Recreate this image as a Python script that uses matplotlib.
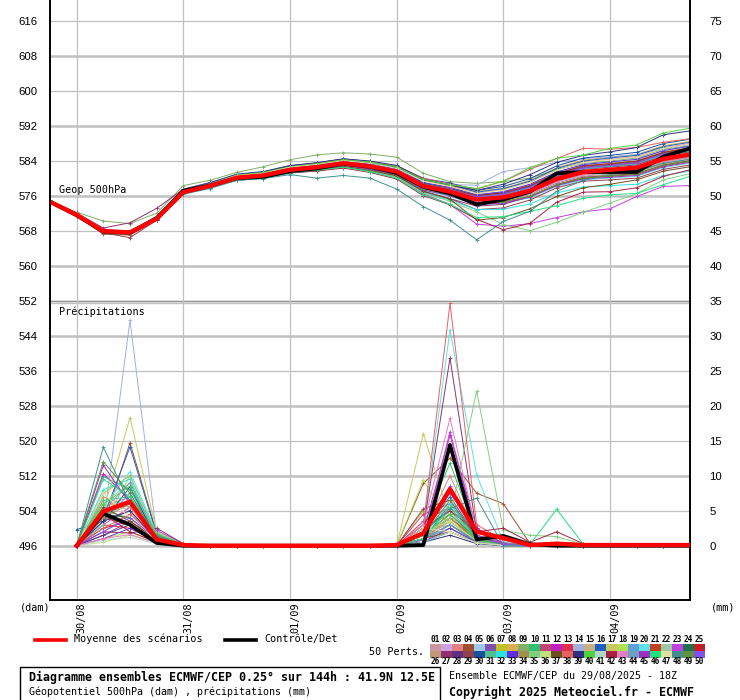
import matplotlib
matplotlib.use("Agg")
import matplotlib.pyplot as plt
from matplotlib.lines import Line2D
from matplotlib.patches import Rectangle
from matplotlib.transforms import offset_copy

# ---------------------------------------------------------------- data
steps = list(range(25))            # 6h steps, 29/08 18Z -> +144h
day_steps = [1, 5, 9, 13, 17, 21]
day_labels = ["30/08", "31/08", "01/09", "02/09", "03/09", "04/09"]
geop_ticks = list(range(496, 617, 8))
precip_ticks = list(range(0, 76, 5))

member_colors = [
    "#c89aa0", "#d0a0e0", "#e08080", "#a05030", "#a0c8e8", "#8050b0", "#c0c020", "#d8b050", "#80b068", "#30c070",
    "#c04878", "#c020c0", "#e03050", "#a0b0e0", "#c8b080", "#2060c0", "#c8c860", "#b0e050", "#60a0d8", "#60e0e8",
    "#c04020", "#a0c8a0", "#c040e0", "#207050", "#c02020", "#c09878", "#903070", "#603080", "#904050", "#1850a0",
    "#50c090", "#30e0e0", "#6030e0", "#a09050", "#80d080", "#c0e080", "#705020", "#e86060", "#303080", "#50d040",
    "#b0d8c8", "#a82040", "#e080c0", "#70a0c0", "#a030c0", "#20e080", "#e0e0a0", "#409090", "#609040", "#8050f0",
]

# Geopotentiel 500hPa (dam)
geop_mean = [574.6, 571.6, 567.9, 567.6, 570.7, 576.8, 578.2, 580.1, 580.6, 581.9, 582.5, 583.4, 582.7,
             581.5, 578.2, 576.9, 575.1, 575.6, 577.1, 579.8, 581.4, 581.9, 582.4, 584.4, 585.4]
geop_ctrl = [574.6, 571.5, 567.8, 567.5, 570.9, 577.1, 578.3, 580.0, 580.3, 581.6, 582.2, 583.3, 582.6,
             581.2, 578.0, 576.5, 574.0, 575.1, 576.9, 581.1, 581.4, 581.4, 581.4, 584.9, 586.8]
geop_members = [
    [574.7, 571.7, 568.0, 567.7, 570.8, 576.6, 578.0, 579.9, 580.3, 581.6, 582.2, 583.1, 582.4, 581.1, 577.8, 576.5, 574.7, 575.2, 576.6, 579.3, 580.9, 581.3, 581.8, 583.8, 584.8],
    [574.5, 571.4, 567.7, 567.4, 570.5, 577.0, 578.5, 580.4, 581.0, 582.3, 582.9, 583.8, 583.1, 582.0, 578.7, 577.5, 575.8, 576.4, 578.1, 580.8, 582.5, 583.0, 583.6, 585.6, 586.6],
    [574.7, 571.8, 568.1, 567.8, 570.9, 577.3, 578.8, 580.7, 581.3, 582.7, 583.3, 584.2, 583.6, 582.5, 579.5, 578.2, 576.6, 577.4, 579.1, 581.9, 583.7, 584.3, 584.9, 586.9, 587.9],
    [574.5, 571.3, 567.2, 567.0, 570.4, 576.6, 577.9, 579.8, 580.2, 581.5, 582.1, 583.0, 582.3, 581.0, 577.5, 576.1, 574.1, 574.5, 575.8, 578.4, 579.9, 580.4, 580.8, 582.8, 583.8],
    [574.7, 571.7, 568.0, 567.7, 570.8, 577.1, 578.6, 580.5, 581.1, 582.4, 583.0, 583.9, 583.3, 582.1, 578.9, 577.8, 576.2, 576.9, 578.5, 581.3, 583.0, 583.6, 584.2, 586.2, 587.2],
    [574.6, 571.6, 567.9, 567.6, 570.7, 577.2, 578.6, 580.6, 581.1, 582.5, 583.1, 584.0, 583.4, 582.2, 578.9, 577.6, 576.0, 576.7, 578.3, 581.1, 582.8, 583.3, 583.9, 585.9, 586.9],
    [574.7, 571.7, 568.0, 567.7, 570.8, 576.6, 577.9, 579.8, 580.2, 581.5, 582.1, 583.0, 582.3, 581.0, 577.7, 576.4, 574.6, 575.0, 576.5, 579.1, 580.7, 581.1, 581.6, 583.6, 584.6],
    [574.8, 571.9, 568.2, 567.9, 571.0, 577.1, 578.6, 580.5, 581.1, 582.4, 583.0, 583.9, 583.3, 582.1, 579.4, 578.4, 576.9, 577.7, 579.5, 582.4, 584.1, 584.8, 585.4, 587.4, 588.4],
    [574.8, 572.2, 570.2, 569.6, 572.0, 578.3, 579.5, 581.3, 582.6, 584.2, 585.3, 585.8, 585.5, 584.8, 581.1, 579.2, 578.8, 579.2, 580.0, 582.0, 583.3, 583.9, 584.6, 586.6, 587.4],
    [574.6, 571.5, 567.8, 567.5, 570.6, 577.0, 578.4, 580.3, 580.9, 582.2, 582.8, 583.7, 583.0, 581.9, 578.5, 577.3, 575.6, 576.2, 577.7, 580.5, 582.1, 582.7, 583.2, 585.2, 586.2],
    [574.6, 571.6, 567.9, 567.6, 570.7, 576.7, 578.1, 579.9, 580.4, 581.7, 582.3, 583.2, 582.5, 581.3, 578.0, 576.8, 574.9, 575.4, 576.9, 579.5, 581.1, 581.6, 582.1, 584.1, 585.1],
    [574.7, 571.7, 568.0, 567.7, 570.8, 576.7, 578.1, 580.0, 580.5, 581.8, 582.4, 583.3, 582.6, 581.4, 577.8, 576.4, 574.5, 574.9, 576.3, 578.9, 580.5, 580.9, 581.4, 583.4, 584.4],
    [574.5, 571.4, 567.7, 567.4, 570.5, 577.0, 578.4, 580.3, 580.9, 582.2, 582.8, 583.7, 583.0, 581.9, 578.7, 577.5, 575.8, 576.4, 578.1, 580.8, 582.5, 583.0, 583.6, 585.6, 586.6],
    [574.6, 571.6, 568.0, 567.9, 571.1, 577.2, 578.6, 580.5, 581.2, 582.5, 583.2, 584.0, 583.4, 582.3, 579.8, 578.5, 578.4, 581.5, 582.4, 583.6, 584.4, 584.9, 585.4, 586.9, 587.6],
    [574.6, 571.6, 567.9, 567.6, 570.7, 576.8, 578.2, 580.1, 580.6, 581.9, 582.5, 583.4, 582.7, 581.5, 578.3, 577.1, 575.3, 575.8, 577.3, 580.1, 581.7, 582.2, 582.7, 584.7, 585.7],
    [574.7, 571.8, 568.1, 567.8, 570.9, 577.3, 578.8, 580.8, 581.4, 582.8, 583.4, 584.3, 583.7, 582.6, 579.6, 578.5, 576.8, 577.6, 579.3, 582.2, 583.9, 584.6, 585.2, 587.2, 588.2],
    [574.6, 571.5, 567.8, 567.5, 570.6, 576.5, 577.9, 579.7, 580.2, 581.4, 582.0, 582.9, 582.1, 580.9, 577.4, 576.1, 574.2, 574.6, 576.0, 578.6, 580.3, 580.8, 581.2, 583.2, 584.2],
    [574.6, 571.6, 567.9, 567.6, 570.7, 577.0, 578.5, 580.4, 581.0, 582.3, 582.9, 583.8, 583.1, 582.0, 578.8, 577.7, 576.1, 576.7, 578.4, 581.2, 582.8, 583.4, 584.0, 586.0, 587.0],
    [574.6, 571.5, 567.8, 567.5, 570.6, 576.7, 578.1, 580.0, 580.5, 581.8, 582.4, 583.3, 582.6, 581.4, 578.1, 576.8, 575.0, 575.5, 576.9, 579.6, 581.2, 581.7, 582.2, 584.2, 585.2],
    [574.6, 571.6, 567.9, 567.6, 570.7, 576.4, 577.8, 579.6, 580.1, 581.3, 581.9, 582.8, 582.0, 580.8, 577.2, 575.8, 573.9, 574.2, 575.5, 578.1, 579.6, 580.0, 580.4, 582.4, 583.4],
    [574.7, 571.7, 568.0, 567.7, 570.8, 577.0, 578.5, 580.4, 581.0, 582.3, 582.9, 583.8, 583.1, 582.0, 578.7, 577.4, 575.7, 576.3, 577.9, 580.7, 582.3, 582.9, 583.4, 585.4, 586.4],
    [574.6, 571.5, 567.8, 567.5, 570.6, 576.8, 578.2, 580.1, 580.6, 581.9, 582.5, 583.4, 582.7, 581.5, 578.2, 576.9, 575.1, 575.6, 577.1, 579.8, 581.4, 581.9, 582.4, 584.4, 585.4],
    [574.6, 571.6, 567.9, 567.6, 570.7, 576.6, 578.0, 579.8, 580.2, 581.3, 581.8, 582.6, 581.6, 580.2, 576.4, 574.0, 569.5, 569.0, 569.6, 571.0, 572.3, 573.0, 575.8, 578.1, 578.3],
    [574.7, 571.7, 568.0, 567.7, 570.8, 577.2, 578.6, 580.6, 581.1, 582.5, 583.1, 584.0, 583.4, 582.2, 578.9, 577.6, 576.0, 576.6, 578.2, 581.0, 582.7, 583.2, 583.8, 585.8, 586.8],
    [574.5, 571.4, 567.7, 567.4, 570.5, 576.9, 578.3, 580.3, 580.8, 582.1, 582.7, 583.6, 582.9, 581.7, 578.6, 577.6, 576.0, 576.7, 578.3, 581.1, 582.8, 583.3, 583.9, 585.9, 586.9],
    [574.7, 571.7, 568.0, 567.7, 570.8, 576.7, 578.1, 579.9, 580.4, 581.7, 582.3, 583.2, 582.5, 581.3, 577.9, 576.7, 574.9, 575.3, 576.8, 579.5, 581.0, 581.5, 582.0, 584.0, 585.0],
    [574.9, 572.0, 568.6, 569.8, 573.1, 577.5, 579.0, 580.8, 581.0, 582.0, 582.4, 583.0, 582.1, 580.6, 577.0, 575.3, 573.6, 574.0, 575.8, 578.5, 580.2, 580.6, 581.0, 583.0, 584.0],
    [574.6, 571.6, 567.9, 567.6, 570.7, 576.9, 578.3, 580.3, 580.8, 582.1, 582.7, 583.6, 582.9, 581.7, 578.4, 577.2, 575.5, 576.0, 577.6, 580.3, 581.9, 582.5, 583.0, 585.0, 586.0],
    [574.6, 571.5, 567.5, 566.4, 570.4, 576.4, 577.7, 579.5, 580.0, 581.2, 581.8, 582.7, 581.9, 580.7, 576.9, 575.3, 572.8, 573.2, 575.0, 577.8, 579.3, 579.6, 580.0, 582.0, 583.0],
    [574.7, 571.8, 568.1, 567.8, 570.9, 577.4, 578.9, 580.9, 581.5, 582.9, 583.5, 584.4, 583.8, 582.7, 579.9, 578.9, 577.2, 578.1, 579.9, 582.8, 584.6, 585.2, 585.9, 587.9, 588.9],
    [574.6, 571.6, 567.9, 567.6, 570.7, 576.7, 578.1, 580.0, 580.5, 581.8, 582.4, 583.3, 582.6, 581.4, 578.1, 576.8, 575.0, 575.5, 577.0, 579.7, 581.3, 581.8, 582.3, 584.3, 585.3],
    [574.6, 571.5, 567.8, 567.5, 570.6, 576.3, 577.6, 579.5, 579.9, 581.1, 581.7, 582.6, 581.8, 580.5, 576.7, 575.0, 572.8, 572.9, 574.1, 576.6, 578.0, 578.3, 578.6, 580.6, 581.6],
    [574.7, 571.7, 568.0, 567.7, 570.8, 577.1, 578.6, 580.5, 581.1, 582.4, 583.0, 583.9, 583.3, 582.1, 579.0, 577.9, 576.2, 576.9, 578.6, 581.4, 583.1, 583.7, 584.3, 586.3, 587.3],
    [574.6, 571.5, 567.8, 567.5, 570.6, 576.7, 578.1, 580.0, 580.5, 581.8, 582.4, 583.3, 582.6, 581.4, 578.0, 576.6, 574.8, 575.3, 576.7, 579.4, 581.0, 581.4, 581.9, 583.9, 584.9],
    [574.6, 571.6, 567.9, 567.6, 570.8, 576.6, 578.0, 579.9, 580.3, 581.4, 582.0, 582.7, 581.7, 580.2, 576.6, 574.7, 572.3, 569.4, 568.0, 569.9, 572.2, 574.3, 576.5, 579.6, 581.0],
    [574.7, 571.7, 568.0, 567.7, 570.8, 576.9, 578.3, 580.2, 580.7, 582.0, 582.6, 583.5, 582.8, 581.6, 578.4, 577.1, 575.3, 575.9, 577.4, 580.1, 581.8, 582.3, 582.8, 584.8, 585.8],
    [574.5, 571.5, 567.7, 567.4, 570.5, 576.5, 577.9, 579.7, 580.2, 581.4, 581.9, 582.7, 581.8, 580.5, 577.0, 575.2, 570.4, 571.0, 573.0, 575.8, 577.8, 578.6, 579.6, 581.6, 582.6],
    [574.7, 571.8, 568.1, 567.8, 570.9, 577.1, 578.6, 580.6, 581.3, 582.7, 583.4, 584.3, 583.8, 582.8, 580.0, 578.6, 577.5, 579.3, 582.0, 584.5, 586.8, 586.6, 587.0, 588.2, 589.0],
    [574.6, 571.7, 568.0, 567.7, 570.8, 577.1, 578.7, 580.8, 581.4, 582.8, 583.5, 584.4, 583.9, 582.9, 579.8, 578.4, 577.2, 578.6, 580.8, 583.6, 585.2, 586.0, 587.0, 589.9, 590.8],
    [574.6, 571.6, 568.0, 567.7, 570.9, 577.2, 578.7, 580.7, 581.3, 582.6, 583.3, 584.2, 583.7, 582.6, 579.7, 578.5, 577.6, 579.3, 582.4, 584.5, 585.3, 586.8, 587.6, 590.3, 591.4],
    [574.6, 571.5, 567.8, 567.5, 570.6, 576.8, 578.2, 580.1, 580.6, 581.9, 582.5, 583.4, 582.7, 581.5, 577.8, 576.4, 574.6, 575.0, 576.4, 579.0, 580.6, 581.0, 581.5, 583.5, 584.5],
    [574.6, 571.6, 567.8, 567.5, 570.5, 576.5, 577.9, 579.7, 580.1, 581.2, 581.6, 582.3, 581.3, 579.8, 576.0, 573.9, 570.6, 568.2, 569.7, 574.5, 576.8, 576.9, 577.8, 580.4, 581.9],
    [574.7, 571.7, 568.0, 567.7, 570.8, 576.7, 578.1, 579.9, 580.4, 581.7, 582.3, 583.2, 582.5, 581.3, 577.8, 576.5, 574.7, 575.1, 576.5, 579.2, 580.8, 581.2, 581.7, 583.7, 584.7],
    [574.6, 571.6, 567.9, 567.6, 570.7, 577.0, 578.4, 580.3, 580.9, 582.2, 582.8, 583.7, 583.0, 581.9, 578.6, 577.4, 575.6, 576.2, 577.8, 580.6, 582.2, 582.8, 583.3, 585.3, 586.3],
    [574.5, 571.4, 567.7, 567.4, 570.5, 576.5, 577.8, 579.7, 580.2, 581.4, 582.0, 582.9, 582.1, 580.9, 577.3, 576.0, 574.0, 574.3, 575.7, 578.3, 579.8, 580.2, 580.6, 582.6, 583.6],
    [574.6, 571.6, 567.9, 567.6, 570.7, 576.6, 578.0, 579.8, 580.2, 581.3, 581.8, 582.5, 581.5, 580.0, 576.2, 574.0, 571.0, 571.2, 572.4, 573.7, 575.4, 576.2, 576.5, 578.5, 580.4],
    [574.7, 571.7, 568.0, 567.7, 570.8, 577.2, 578.6, 580.6, 581.1, 582.5, 583.1, 584.0, 583.4, 582.2, 579.3, 578.1, 576.5, 577.3, 579.0, 581.8, 583.6, 584.2, 584.8, 586.8, 587.8],
    [574.5, 571.5, 567.8, 567.5, 570.6, 576.4, 577.8, 579.5, 579.9, 580.8, 580.0, 580.6, 580.0, 577.5, 573.5, 570.4, 565.9, 570.1, 572.4, 577.0, 579.5, 580.8, 581.6, 583.4, 584.3],
    [574.6, 571.6, 567.9, 567.6, 570.7, 576.6, 578.0, 579.9, 580.3, 581.6, 582.2, 583.1, 582.4, 581.1, 577.6, 576.2, 574.2, 574.6, 575.9, 578.5, 580.0, 580.5, 580.9, 582.9, 583.9],
    [574.7, 571.7, 568.0, 567.7, 570.8, 577.0, 578.4, 580.3, 580.9, 582.2, 582.8, 583.7, 583.0, 581.9, 578.6, 577.4, 575.7, 576.4, 578.0, 580.7, 582.4, 582.9, 583.5, 585.5, 586.5],
]

# Precipitations (mm), steps 1..24
precip_mean = [0, 4.9, 6.3, 0.9, 0.1, 0, 0, 0, 0, 0, 0, 0, 0.1, 1.8, 8.1, 2.0, 1.1, 0.1, 0.3, 0.1, 0.1, 0.1, 0.1, 0.1]
precip_ctrl = [0, 4.6, 3.0, 0.4, 0, 0, 0, 0, 0, 0, 0, 0, 0, 0.1, 14.4, 0.9, 1.4, 0.2, 0, 0, 0, 0, 0, 0]
precip_members = [
    [0, 3.5, 5.0, 1.0, 0.1, 0, 0, 0, 0, 0, 0, 0, 0, 1.0, 4.0, 0.8, 0.2, 0, 0, 0, 0, 0, 0, 0],
    [0, 2.0, 4.5, 1.5, 0.2, 0, 0, 0, 0, 0, 0, 0, 0, 0.5, 3.0, 1.0, 0.3, 0, 0, 0, 0, 0, 0, 0],
    [0, 5.5, 7.0, 1.2, 0.1, 0, 0, 0, 0, 0, 0, 0, 0, 2.0, 10.0, 1.5, 0.5, 0, 0, 0, 0, 0, 0, 0],
    [0, 3.0, 14.7, 1.8, 0.2, 0, 0, 0, 0, 0, 0, 0, 0, 8.9, 12.5, 7.5, 6.0, 0.3, 0, 0, 0, 0, 0, 0],
    [0, 4.0, 6.5, 1.0, 0, 0, 0, 0, 0, 0, 0, 0, 0, 1.5, 5.0, 1.0, 0.2, 0, 0.1, 0, 0, 0, 0, 0],
    [0, 1.5, 3.5, 0.8, 0.1, 0, 0, 0, 0, 0, 0, 0, 0, 0.8, 6.0, 1.2, 0.4, 0, 0, 0, 0, 0, 0, 0],
    [0, 7.5, 10.0, 1.5, 0.2, 0, 0, 0, 0, 0, 0, 0, 0, 5.0, 3.5, 0.6, 0.1, 0, 0, 0, 0, 0, 0, 0],
    [0, 6.0, 5.5, 0.9, 0.1, 0, 0, 0, 0, 0, 0, 0, 0, 1.0, 2.5, 0.5, 0.1, 0, 0, 0, 0, 0, 0, 0],
    [0, 5.0, 4.0, 0.7, 0, 0, 0, 0, 0, 0, 0, 0, 0, 2.5, 4.5, 0.8, 0.2, 0, 0, 0, 0, 0, 0, 0],
    [0, 9.9, 8.0, 1.3, 0.1, 0, 0, 0, 0, 0, 0, 0, 0, 3.0, 11.8, 1.5, 0.3, 0, 0, 0, 0, 0, 0, 0],
    [0, 4.5, 6.0, 1.5, 0.2, 0, 0, 0, 0, 0, 0, 0, 0, 4.5, 6.0, 1.0, 0.2, 0, 0, 0, 0, 0, 0, 0],
    [0, 10.3, 6.5, 1.0, 0.1, 0, 0, 0, 0, 0, 0, 0, 0, 2.0, 15.8, 2.5, 0.3, 0, 0.2, 0, 0, 0, 0, 0],
    [0, 3.0, 2.5, 0.6, 0, 0, 0, 0, 0, 0, 0, 0, 0, 3.5, 5.5, 1.1, 0.3, 0, 0, 0, 0, 0, 0, 0],
    [0, 3.0, 32.2, 1.5, 0.2, 0, 0, 0, 0, 0, 0, 0, 0, 0.5, 2.0, 0.4, 0, 0, 0, 0, 0, 0, 0, 0],
    [0, 6.5, 5.0, 0.8, 0, 0, 0, 0, 0, 0, 0, 0, 0, 1.5, 3.5, 0.7, 0.1, 0, 0, 0, 0, 0, 0, 0],
    [0, 4.0, 14.1, 1.6, 0.1, 0, 0, 0, 0, 0, 0, 0, 0, 2.0, 7.0, 1.3, 0.2, 0, 0, 0, 0, 0, 0, 0],
    [0, 5.0, 18.3, 2.0, 0.2, 0, 0, 0, 0, 0, 0, 0, 0, 16.0, 4.0, 1.0, 0.2, 0, 0, 0, 0, 0, 0, 0],
    [0, 1.0, 2.0, 0.5, 0, 0, 0, 0, 0, 0, 0, 0, 0, 9.4, 3.0, 0.8, 0.2, 0, 0, 0, 0, 0, 0, 0],
    [0, 3.5, 7.5, 1.2, 0.1, 0, 0, 0, 0, 0, 0, 0, 0, 1.0, 2.5, 0.6, 0.1, 0, 0, 0, 0, 0, 0, 0],
    [0, 5.5, 10.6, 1.8, 0.2, 0, 0, 0, 0, 0, 0, 0, 0, 2.5, 30.8, 10.1, 0.6, 0, 0, 0, 0, 0, 0, 0],
    [0, 4.0, 3.0, 0.6, 0, 0, 0, 0, 0, 0, 0, 0, 0, 1.5, 4.0, 0.9, 0.2, 0, 0, 0, 0, 0, 0, 0],
    [0, 6.0, 9.0, 1.5, 0.1, 0, 0, 0, 0, 0, 0, 0, 0, 2.0, 3.0, 0.5, 0.1, 0, 0, 0, 0, 0, 0, 0],
    [0, 3.0, 5.5, 2.2, 0.3, 0, 0, 0, 0, 0, 0, 0, 0, 1.0, 16.3, 1.5, 0.3, 0, 0, 0, 0, 0, 0, 0],
    [0, 4.5, 4.0, 0.8, 0, 0, 0, 0, 0, 0, 0, 0, 0, 0.5, 2.0, 0.5, 0.1, 0, 0, 0, 0, 0, 0, 0],
    [0, 2.5, 3.5, 1.0, 0.1, 0, 0, 0, 0, 0, 0, 0, 0, 3.0, 8.0, 1.2, 0.2, 0, 0, 0, 0, 0, 0, 0],
    [0, 7.0, 5.5, 1.1, 0.1, 0, 0, 0, 0, 0, 0, 0, 0, 1.0, 3.5, 0.8, 0.1, 0, 0, 0, 0, 0, 0, 0],
    [0, 2.0, 1.8, 2.5, 0.3, 0, 0, 0, 0, 0, 0, 0, 0, 2.5, 26.8, 2.0, 0.4, 0, 0, 0, 0, 0, 0, 0],
    [0, 1.5, 3.0, 0.9, 0.1, 0, 0, 0, 0, 0, 0, 0, 0, 1.5, 4.5, 1.0, 0.2, 0, 0, 0, 0, 0, 0, 0],
    [0, 5.0, 6.5, 1.4, 0.2, 0, 0, 0, 0, 0, 0, 0, 0, 5.3, 6.5, 1.2, 0.3, 0, 0, 0, 0, 0, 0, 0],
    [2.3, 3.5, 8.4, 1.0, 0.1, 0, 0, 0, 0, 0, 0, 0, 0, 1.0, 3.0, 0.6, 0.1, 0, 0, 0, 0, 0, 0, 0],
    [0, 6.5, 7.0, 1.3, 0.1, 0, 0, 0, 0, 0, 0, 0, 0, 2.0, 5.0, 0.9, 0.2, 0, 0, 0, 0, 0, 0, 0],
    [0, 8.0, 9.5, 1.0, 0.1, 0, 0, 0, 0, 0, 0, 0, 0, 1.5, 6.0, 1.0, 0.2, 0, 0, 0, 0, 0, 0, 0],
    [0, 1.0, 2.5, 0.7, 0, 0, 0, 0, 0, 0, 0, 0, 0, 0.5, 2.5, 0.5, 0.1, 0, 0, 0, 0, 0, 0, 0],
    [0, 4.0, 6.0, 1.1, 0.1, 0, 0, 0, 0, 0, 0, 0, 0, 1.0, 4.0, 0.6, 0.1, 0, 0, 0, 0, 0, 0, 0],
    [0, 3.0, 10.0, 1.6, 0.1, 0, 0, 0, 0, 0, 0, 0, 0, 1.5, 4.0, 22.1, 2.2, 1.5, 1.3, 0.2, 0, 0, 0, 0],
    [0, 0.5, 1.5, 0.4, 0, 0, 0, 0, 0, 0, 0, 0, 0, 2.0, 3.5, 0.7, 0.1, 0, 0, 0, 0, 0, 0, 0],
    [0, 5.5, 3.5, 0.8, 0, 0, 0, 0, 0, 0, 0, 0, 0, 1.0, 2.0, 0.4, 0, 0, 0, 0, 0, 0, 0, 0],
    [0, 2.5, 4.5, 1.0, 0.1, 0, 0, 0, 0, 0, 0, 0, 0, 3.0, 34.6, 3.0, 0.8, 0.2, 0, 0, 0, 0, 0, 0],
    [0, 3.5, 5.0, 0.9, 0, 0, 0, 0, 0, 0, 0, 0, 0, 0.5, 1.5, 0.3, 0, 0, 0, 0, 0, 0, 0, 0],
    [0, 6.0, 8.5, 1.7, 0.2, 0, 0, 0, 0, 0, 0, 0, 0, 1.5, 4.5, 0.8, 0.2, 0, 0, 0, 0, 0, 0, 0],
    [0, 0.8, 1.2, 0.3, 0, 0, 0, 0, 0, 0, 0, 0, 0, 0.5, 2.0, 0.4, 0, 0, 0, 0, 0, 0, 0, 0],
    [0, 4.5, 2.0, 0.5, 0, 0, 0, 0, 0, 0, 0, 0, 0, 2.5, 5.0, 2.0, 2.5, 0.5, 2.0, 0.3, 0, 0, 0, 0],
    [0, 1.0, 1.6, 0.4, 0, 0, 0, 0, 0, 0, 0, 0, 0, 3.0, 18.2, 2.0, 0.4, 0, 0, 0, 0, 0, 0, 0],
    [0, 5.0, 9.0, 1.2, 0.1, 0, 0, 0, 0, 0, 0, 0, 0, 1.0, 3.0, 0.6, 0.1, 0, 0, 0, 0, 0, 0, 0],
    [0, 11.5, 6.0, 1.0, 0.1, 0, 0, 0, 0, 0, 0, 0, 0, 2.0, 7.5, 2.5, 0.3, 0, 0.3, 0, 0, 0, 0, 0],
    [0, 9.5, 7.0, 1.2, 0.1, 0, 0, 0, 0, 0, 0, 0, 0, 1.0, 5.5, 1.0, 0.2, 0.2, 5.2, 0.2, 0, 0, 0, 0],
    [0, 7.5, 4.0, 0.8, 0, 0, 0, 0, 0, 0, 0, 0, 0, 2.5, 2.0, 0.4, 0.1, 0, 0, 0, 0, 0, 0, 0],
    [0, 14.1, 6.0, 1.5, 0.1, 0, 0, 0, 0, 0, 0, 0, 0, 2.0, 5.3, 6.8, 0, 0, 0, 0, 0, 0, 0, 0],
    [0, 12.0, 7.5, 1.2, 0.1, 0, 0, 0, 0, 0, 0, 0, 0, 1.5, 6.5, 1.0, 0.2, 0, 0, 0, 0, 0, 0, 0],
    [0, 2.0, 4.0, 1.0, 0.1, 0, 0, 0, 0, 0, 0, 0, 0, 2.0, 8.5, 1.3, 0.2, 0, 0, 0, 0, 0, 0, 0],
]

# ---------------------------------------------------------------- figure
W, H = 740, 700
MONO = "DejaVu Sans Mono"
SANS = "Liberation Sans"
GRID = "#c0c0c0"

def fx(px):
    return px / W

def fy(py):
    return 1 - py / H

fig = plt.figure(figsize=(W / 100, H / 100), dpi=100)
ax = fig.add_axes([fx(50), 100 / H, 640 / W, 600 / H])
y_bot, y_top = 483.6, 620.7          # dam at pixel 600 / 0
ax.set_xlim(0, 24)
ax.set_ylim(y_bot, y_top)

#* grille
for v in geop_ticks:
    ax.axhline(v, color=GRID, lw=1.8 if v % 16 == 0 else 0.9, zorder=0)
ax.axhline(552, color="#909090", lw=1.0, zorder=0)
ax.axhline(551.5, color=GRID, lw=1.0, zorder=0)
for s in day_steps:
    ax.axvline(s, color=GRID, lw=0.9, zorder=0)

#* geopotentiel
for col, vals in zip(member_colors, geop_members):
    ax.plot(steps, vals, color=col, lw=0.7, marker="+", ms=3.5, mew=0.6, zorder=2)
ax.plot(steps, geop_ctrl, color="black", lw=2.7, zorder=3)
ax.plot(steps, geop_mean, color="red", lw=3.1, zorder=4)

ax.set_yticks(geop_ticks)
ax.set_yticklabels([str(v) for v in geop_ticks], fontfamily=SANS, fontsize=8.2)
ax.tick_params(axis="y", length=0, pad=9)
ax.set_xticks([])
ax.spines["top"].set_visible(False)
for sp in ["left", "right", "bottom"]:
    ax.spines[sp].set_linewidth(1.2)

#* precipitations (axe de droite)
ax2 = ax.twinx()
ax2.set_ylim((y_bot - 496) * 5 / 8, (y_top - 496) * 5 / 8)
for col, vals in zip(member_colors, precip_members):
    ax2.plot(steps[1:], vals, color=col, lw=0.7, marker="+", ms=3.5, mew=0.6, zorder=2)
ax2.plot(steps[1:], precip_ctrl, color="black", lw=2.7, zorder=3)
ax2.plot(steps[1:], precip_mean, color="red", lw=3.1, zorder=4)
ax2.set_yticks(precip_ticks)
ax2.set_yticklabels([str(v) for v in precip_ticks], fontfamily=SANS, fontsize=8.2)
ax2.tick_params(axis="y", length=0, pad=14)
ax2.spines["top"].set_visible(False)
for sp in ["left", "right", "bottom"]:
    ax2.spines[sp].set_linewidth(1.2)

#* dates
tr = offset_copy(ax.get_xaxis_transform(), fig=fig, x=5, y=-2, units="dots")
for s, lab in zip(day_steps, day_labels):
    ax.text(s, 0, lab, transform=tr, rotation=90, ha="center", va="top",
            fontfamily=MONO, fontsize=7.3)

fig.text(fx(59), fy(190), "Geop 500hPa", fontfamily=MONO, fontsize=7.3, va="center")
fig.text(fx(59), fy(312), "Précipitations", fontfamily=MONO, fontsize=7.3, va="center")
fig.text(fx(20), fy(607), "(dam)", fontfamily=MONO, fontsize=7.3, va="center")
fig.text(fx(711), fy(607), "(mm)", fontfamily=MONO, fontsize=7.3, va="center")

#* legende
fig.add_artist(Line2D([fx(35), fx(66)], [fy(640), fy(640)], color="red", lw=2.6))
fig.text(fx(74), fy(639), "Moyenne des scénarios", fontfamily=MONO, fontsize=7.3, va="center")
fig.add_artist(Line2D([fx(225), fx(256)], [fy(640), fy(640)], color="black", lw=2.6))
fig.text(fx(264), fy(639), "Contrôle/Det", fontfamily=MONO, fontsize=7.3, va="center")
fig.text(fx(369), fy(652), "50 Perts.", fontfamily=MONO, fontsize=7.3, va="center")

cw = 11.0
for k in range(25):
    x0 = 430 + k * cw
    fig.add_artist(Rectangle((fx(x0), fy(651)), cw / W, 7 / H, color=member_colors[k], lw=0))
    fig.add_artist(Rectangle((fx(x0), fy(658)), cw / W, 7 / H, color=member_colors[k + 25], lw=0))
    fig.text(fx(x0 + cw / 2), fy(640), "%02d" % (k + 1), fontfamily=MONO, fontsize=5.6,
             weight="bold", ha="center", va="center")
    fig.text(fx(x0 + cw / 2), fy(662), "%02d" % (k + 26), fontfamily=MONO, fontsize=5.6,
             weight="bold", ha="center", va="center")

#* cartouche
fig.add_artist(Rectangle((fx(20), fy(702)), 420 / W, 35 / H, fill=False, ec="black", lw=1.0))
fig.text(fx(29), fy(677), "Diagramme ensembles ECMWF/CEP 0.25° sur 144h : 41.9N 12.5E",
         fontfamily=MONO, fontsize=8.4, weight="bold", va="center")
fig.text(fx(29), fy(692), "Géopotentiel 500hPa (dam) , précipitations (mm)",
         fontfamily=MONO, fontsize=7.2, va="center")
fig.text(fx(449), fy(676), "Ensemble ECMWF/CEP du 29/08/2025 - 18Z",
         fontfamily=MONO, fontsize=7.2, va="center")
fig.text(fx(449), fy(692), "Copyright 2025 Meteociel.fr - ECMWF",
         fontfamily=MONO, fontsize=8.4, weight="bold", va="center")

fig.savefig("out.png", dpi=100)
